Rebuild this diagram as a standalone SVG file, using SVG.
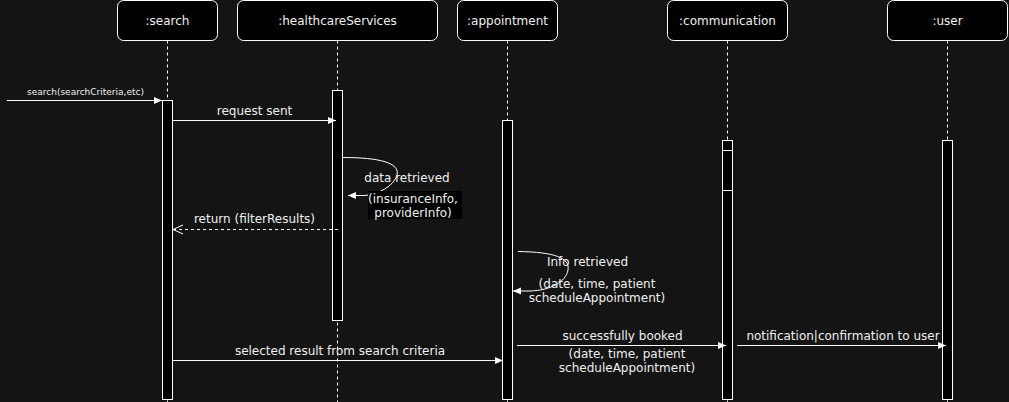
<svg xmlns="http://www.w3.org/2000/svg" width="1009" height="402" viewBox="0 0 1009 402">
  <style>
    .bg { fill: #141414; }
    .head { fill: #000000; stroke: #ffffff; stroke-width: 1; }
    .life { stroke: #ffffff; stroke-width: 1; stroke-dasharray: 3 3; fill: none; }
    .act { fill: #000000; stroke: #ffffff; stroke-width: 1; }
    .msg { stroke: #ffffff; stroke-width: 1; fill: none; }
    .ret { stroke: #ffffff; stroke-width: 1; fill: none; stroke-dasharray: 3 3; }
    text { font-family: "DejaVu Sans", "Liberation Sans", sans-serif; font-size: 12px; fill: #f0f0f0; text-anchor: middle; }
    .small { font-size: 9px; }
  </style>
  <defs>
    <marker id="block" markerUnits="userSpaceOnUse" markerWidth="9" markerHeight="8" refX="8" refY="3.5" orient="auto">
      <path d="M0,0 L8,3.5 L0,7 z" fill="#ffffff"/>
    </marker>
    <marker id="open" markerUnits="userSpaceOnUse" markerWidth="12" markerHeight="12" refX="10.5" refY="5" orient="auto">
      <path d="M0.5,0.5 L10.5,5 L0.5,9.5" fill="none" stroke="#ffffff" stroke-width="1"/>
    </marker>
  </defs>
  <rect class="bg" x="0" y="0" width="1009" height="402"/>

  <g id="search">
    <rect class="head" x="117.5" y="0.5" width="100" height="40" rx="6"/>
    <text x="167.5" y="24.5">:search</text>
    <line class="life" x1="167.5" y1="40.5" x2="167.5" y2="402"/>
    <rect class="act" x="162.5" y="100.5" width="10" height="299"/>
  </g>

  <g id="healthcareServices">
    <rect class="head" x="237.5" y="0.5" width="200" height="40" rx="6"/>
    <text x="337.5" y="24.5">:healthcareServices</text>
    <line class="life" x1="337.5" y1="40.5" x2="337.5" y2="402"/>
    <rect class="act" x="332.5" y="90.5" width="10" height="230"/>
  </g>

  <g id="appointment">
    <rect class="head" x="457.5" y="0.5" width="100" height="40" rx="6"/>
    <text x="507.5" y="24.5">:appointment</text>
    <line class="life" x1="507.5" y1="40.5" x2="507.5" y2="402"/>
    <rect class="act" x="502.5" y="120.5" width="10" height="279"/>
  </g>

  <g id="communication">
    <rect class="head" x="667.5" y="0.5" width="120" height="40" rx="6"/>
    <text x="727.5" y="24.5">:communication</text>
    <line class="life" x1="727.5" y1="40.5" x2="727.5" y2="402"/>
    <rect class="act" x="722.5" y="140.5" width="10" height="259"/>
    <line class="msg" x1="722.5" y1="150.5" x2="732.5" y2="150.5"/>
    <line class="msg" x1="722.5" y1="190.5" x2="732.5" y2="190.5"/>
  </g>

  <g id="user">
    <rect class="head" x="887.5" y="0.5" width="120" height="40" rx="6"/>
    <text x="947.5" y="24.5">:user</text>
    <line class="life" x1="947.5" y1="40.5" x2="947.5" y2="402"/>
    <rect class="act" x="942.5" y="140.5" width="10" height="259"/>
  </g>

  <g id="connectors">
    <line class="msg" x1="7" y1="100.5" x2="162" y2="100.5" marker-end="url(#block)"/>
    <text class="small" x="85.5" y="95">search(searchCriteria,etc)</text>

    <line class="msg" x1="173" y1="120.5" x2="336" y2="120.5" marker-end="url(#block)"/>
    <text x="254.5" y="115">request sent</text>

    <path class="msg" d="M343,157.5 C380,157.5 400,163 397,175 C394,186 378,194.5 365,195.5 L348,195.5" marker-end="url(#block)"/>
    <text x="407" y="182">data retrieved</text>
    <rect x="368" y="191" width="94" height="28" fill="#000000"/>
    <text x="413" y="203">(insuranceInfo,</text>
    <text x="413" y="217">providerInfo)</text>

    <line class="ret" x1="338" y1="229.5" x2="173" y2="229.5" marker-end="url(#open)"/>
    <text x="254.5" y="223">return (filterResults)</text>

    <path class="msg" d="M518,251.5 C555,252 570,258 568,270 C566,282 550,290.5 530,291 L513,291" marker-end="url(#block)"/>
    <text x="587.5" y="266">Info retrieved</text>
    <text x="597" y="288">(date, time, patient</text>
    <text x="597" y="302">scheduleAppointment)</text>

    <line class="msg" x1="173" y1="360.5" x2="503" y2="360.5" marker-end="url(#block)"/>
    <text x="340" y="355">selected result from search criteria</text>

    <line class="msg" x1="517" y1="345.5" x2="726" y2="345.5" marker-end="url(#block)"/>
    <text x="622.5" y="340">successfully booked</text>
    <text x="627" y="358">(date, time, patient</text>
    <text x="627" y="372">scheduleAppointment)</text>

    <line class="msg" x1="737" y1="345.5" x2="946" y2="345.5" marker-end="url(#block)"/>
    <text x="843" y="340">notification|confirmation to user</text>
  </g>
</svg>
